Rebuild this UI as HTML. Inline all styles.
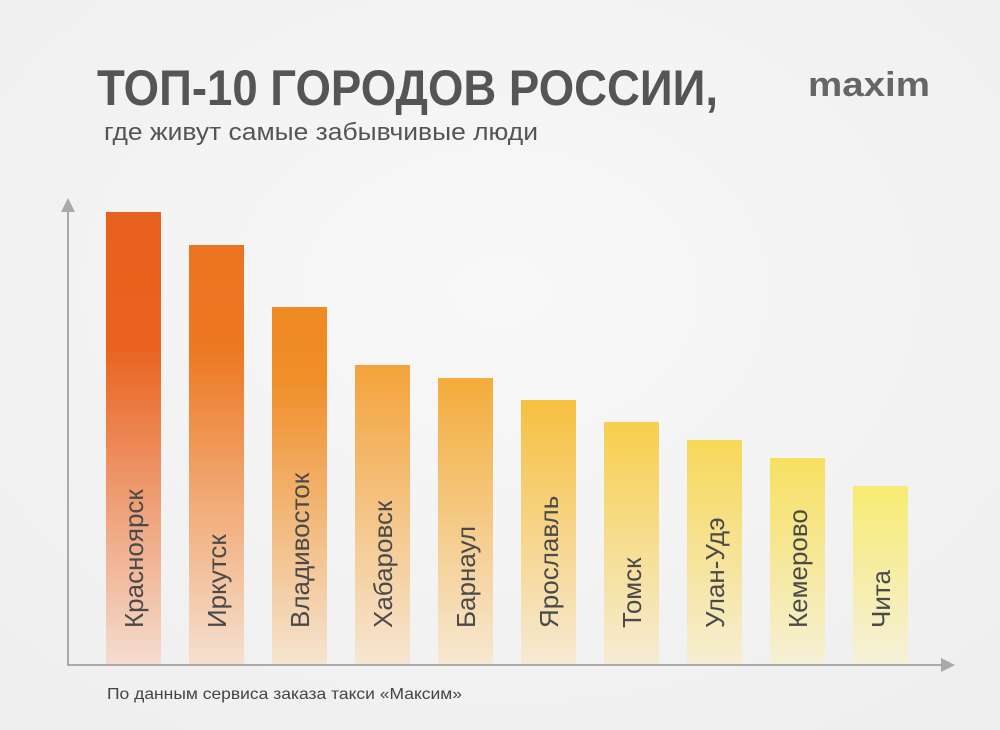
<!DOCTYPE html>
<html><head><meta charset="utf-8"><style>
html,body{margin:0;padding:0;background:#f3f3f3;}
svg{display:block;}
</style></head><body>
<svg width="1000" height="730" viewBox="0 0 1000 730" xmlns="http://www.w3.org/2000/svg" font-family="Liberation Sans, sans-serif">
<defs>
<radialGradient id="bg" cx="0.5" cy="0.4" r="0.7"><stop offset="0" stop-color="#f8f8f8"/><stop offset="1" stop-color="#efefef"/></radialGradient>
<linearGradient id="g0" x1="0" y1="0" x2="0" y2="1"><stop offset="0" stop-color="#e8601e"/><stop offset="0.3" stop-color="#e9631f"/><stop offset="1" stop-color="#f5dccf"/></linearGradient>
<linearGradient id="g1" x1="0" y1="0" x2="0" y2="1"><stop offset="0" stop-color="#ec7420"/><stop offset="0.25" stop-color="#ed7822"/><stop offset="1" stop-color="#f5e0d0"/></linearGradient>
<linearGradient id="g2" x1="0" y1="0" x2="0" y2="1"><stop offset="0" stop-color="#f08a22"/><stop offset="0.2" stop-color="#f08e28"/><stop offset="1" stop-color="#f5e4d0"/></linearGradient>
<linearGradient id="g3" x1="0" y1="0" x2="0" y2="1"><stop offset="0" stop-color="#f3a33a"/><stop offset="1" stop-color="#f6e6d2"/></linearGradient>
<linearGradient id="g4" x1="0" y1="0" x2="0" y2="1"><stop offset="0" stop-color="#f4ac3a"/><stop offset="1" stop-color="#f6e8d2"/></linearGradient>
<linearGradient id="g5" x1="0" y1="0" x2="0" y2="1"><stop offset="0" stop-color="#f6c040"/><stop offset="1" stop-color="#f6ead2"/></linearGradient>
<linearGradient id="g6" x1="0" y1="0" x2="0" y2="1"><stop offset="0" stop-color="#f7cf4c"/><stop offset="1" stop-color="#f6ecd4"/></linearGradient>
<linearGradient id="g7" x1="0" y1="0" x2="0" y2="1"><stop offset="0" stop-color="#f7d858"/><stop offset="1" stop-color="#f6eed4"/></linearGradient>
<linearGradient id="g8" x1="0" y1="0" x2="0" y2="1"><stop offset="0" stop-color="#f7e060"/><stop offset="1" stop-color="#f6f0d6"/></linearGradient>
<linearGradient id="g9" x1="0" y1="0" x2="0" y2="1"><stop offset="0" stop-color="#f7eb72"/><stop offset="1" stop-color="#f6f0da"/></linearGradient>
</defs>
<rect width="1000" height="730" fill="url(#bg)"/>
<text x="97" y="105" font-size="50" font-weight="bold" fill="#555" textLength="621" lengthAdjust="spacingAndGlyphs">ТОП-10 ГОРОДОВ РОССИИ,</text>
<text x="104" y="140" font-size="24" fill="#555" textLength="434" lengthAdjust="spacingAndGlyphs">где живут самые забывчивые люди</text>
<text x="808" y="96" font-size="34" font-weight="bold" fill="#666" textLength="122" lengthAdjust="spacingAndGlyphs">maxim</text>
<g>
<rect x="106" y="212" width="55" height="452" fill="url(#g0)"/>
<rect x="189" y="245" width="55" height="419" fill="url(#g1)"/>
<rect x="272" y="307" width="55" height="357" fill="url(#g2)"/>
<rect x="355" y="365" width="55" height="299" fill="url(#g3)"/>
<rect x="438" y="378" width="55" height="286" fill="url(#g4)"/>
<rect x="521" y="400" width="55" height="264" fill="url(#g5)"/>
<rect x="604" y="422" width="55" height="242" fill="url(#g6)"/>
<rect x="687" y="440" width="55" height="224" fill="url(#g7)"/>
<rect x="770" y="458" width="55" height="206" fill="url(#g8)"/>
<rect x="853" y="486" width="55" height="178" fill="url(#g9)"/>
</g>
<g font-size="26" fill="#4a4a4a">
<text transform="translate(143,628) rotate(-90)">Красноярск</text>
<text transform="translate(226,628) rotate(-90)">Иркутск</text>
<text transform="translate(309,628) rotate(-90)">Владивосток</text>
<text transform="translate(392,628) rotate(-90)">Хабаровск</text>
<text transform="translate(475,628) rotate(-90)">Барнаул</text>
<text transform="translate(558,628) rotate(-90)">Ярославль</text>
<text transform="translate(641,628) rotate(-90)">Томск</text>
<text transform="translate(724,628) rotate(-90)">Улан-Удэ</text>
<text transform="translate(807,628) rotate(-90)">Кемерово</text>
<text transform="translate(890,628) rotate(-90)">Чита</text>
</g>
<g stroke="#aaa" stroke-width="2" fill="none">
<line x1="68" y1="205" x2="68" y2="665"/>
<line x1="67" y1="665" x2="945" y2="665"/>
</g>
<polygon points="68,198 61,212 75,212" fill="#aaa"/>
<polygon points="955,665 941,658 941,672" fill="#aaa"/>
<text x="107" y="699" font-size="16" fill="#444" textLength="355" lengthAdjust="spacingAndGlyphs">По данным сервиса заказа такси «Максим»</text>
</svg>
</body></html>
